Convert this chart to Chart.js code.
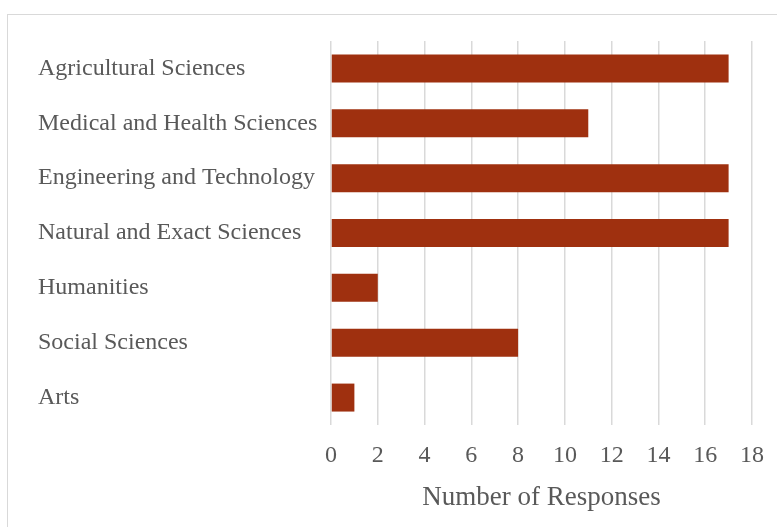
<!DOCTYPE html>
<html>
<head>
<meta charset="utf-8">
<script src="https://cdn.jsdelivr.net/npm/chart.js@4"></script>
<style>
  html, body { margin: 0; padding: 0; background: #fff; }
  #wrap { position: relative; width: 777px; height: 527px; overflow: hidden; }
  #frame { position: absolute; left: 7px; top: 14px; width: 800px; height: 600px; border: 1px solid #d9d9d9; box-sizing: border-box; }
  canvas { position: absolute; left: 0; top: 0; }
</style>
</head>
<body>
<div id="wrap">
  <div id="frame"></div>
  <canvas id="responsesChart" width="777" height="527"></canvas>
</div>
<script>
// Responses per research field
const fields = [
    'Agricultural Sciences',
    'Medical and Health Sciences',
    'Engineering and Technology',
    'Natural and Exact Sciences',
    'Humanities',
    'Social Sciences',
    'Arts'
];
const responses = [17, 11, 17, 17, 2, 8, 1];
const xTicks = [0, 2, 4, 6, 8, 10, 12, 14, 16, 18];

const serif = "'Liberation Serif', 'DejaVu Serif', serif";
const textColor = '#595959';

const ctx = document.getElementById('responsesChart');

new Chart(ctx, {
    type: 'bar',
    data: {
        labels: fields,
        datasets: [{
            label: 'Number of Responses',
            data: responses,
            backgroundColor: '#9f300f',
            barPercentage: 0.51,
            categoryPercentage: 1
        }]
    },
    options: {
        indexAxis: 'y',
        responsive: false,
        animation: false,
        layout: {
            padding: { left: 38, right: 25, top: 41, bottom: 13 }
        },
        plugins: {
            legend: { display: false },
            tooltip: { enabled: false }
        },
        scales: {
            y: {
                grid: { display: false },
                border: { display: false },
                ticks: {
                    crossAlign: 'far',
                    color: textColor,
                    padding: 0,
                    font: { family: serif, size: 24 }
                },
                afterFit: function(scale) {
                    scale.width = 293;
                }
            },
            x: {
                min: xTicks[0],
                max: xTicks[xTicks.length - 1],
                afterBuildTicks: function(scale) {
                    scale.ticks = xTicks.map(v => ({ value: v }));
                },
                afterFit: function(scale) {
                    // let the last tick label hang into the right padding
                    scale.height = 89;
                    scale.paddingLeft = 0;
                    scale.paddingRight = 0;
                },
                grid: {
                    color: '#d9d9d9',
                    lineWidth: 1.5,
                    drawTicks: false
                },
                border: { display: false },
                ticks: {
                    color: textColor,
                    padding: 16,
                    font: { family: serif, size: 24 }
                },
                title: {
                    display: true,
                    text: 'Number of Responses',
                    color: textColor,
                    padding: { top: 8, bottom: 0 },
                    font: { family: serif, size: 27 }
                }
            }
        }
    }
});
</script>
</body>
</html>
